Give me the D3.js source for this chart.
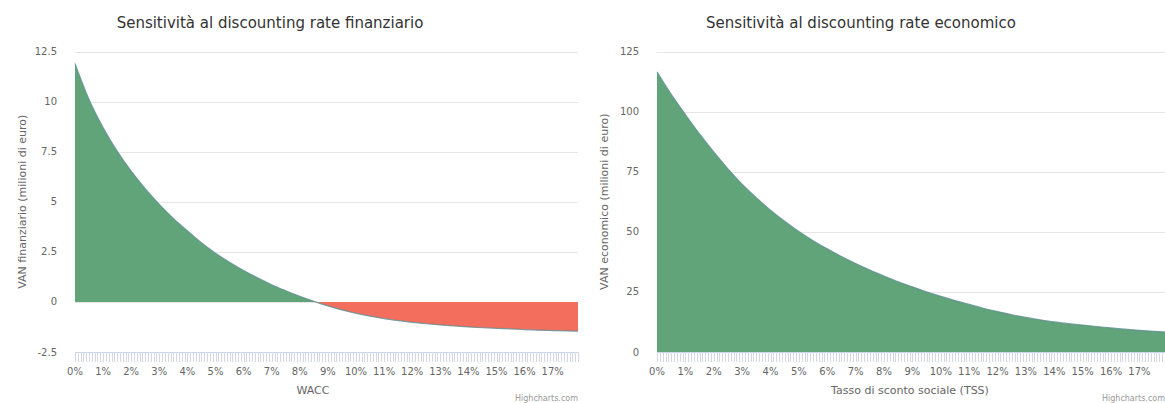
<!DOCTYPE html>
<html>
<head>
<meta charset="utf-8">
<script src="https://cdn.jsdelivr.net/npm/d3@7"></script>
<style>
  html, body { margin: 0; padding: 0; background: #ffffff; }
  svg { display: block; }
  text { font-family: "DejaVu Sans", "Lucida Grande", sans-serif; }
</style>
</head>
<body>
<svg id="chart" width="1165" height="403"></svg>
<script>
// Discount rates (%) at which NPV was evaluated
const rates = [0, 0.5, 1, 1.5, 2, 2.5, 3, 3.5, 4, 4.5, 5, 5.5, 6, 6.5, 7, 7.5, 8, 8.5,
  9, 9.5, 10, 10.5, 11, 11.5, 12, 12.5, 13, 13.5, 14, 14.5, 15, 15.5, 16, 16.5, 17, 17.5, 17.9];

// Financial NPV (million euro) vs WACC
const vanFinanziario = [11.9, 10.1, 8.7, 7.53, 6.53, 5.65, 4.87, 4.17, 3.55, 2.95, 2.43, 1.98, 1.57, 1.2, 0.86, 0.56, 0.28, 0.03,
  -0.2, -0.4, -0.57, -0.71, -0.83, -0.93, -1.02, -1.09, -1.15, -1.2, -1.25, -1.29, -1.32, -1.35, -1.38, -1.41, -1.43, -1.45, -1.46];

// Economic NPV (million euro) vs social discount rate
const vanEconomico = [116.5, 107.2, 98.8, 90.7, 83.2, 76.2, 69.8, 64.2, 59.0, 54.4, 50.1, 46.3, 42.9, 39.7, 36.8, 34.1, 31.6, 29.2,
  27.1, 25.0, 23.2, 21.4, 19.8, 18.2, 16.8, 15.5, 14.4, 13.4, 12.5, 11.8, 11.2, 10.6, 10.0, 9.5, 9.0, 8.6, 8.3];

// Axis ticks
const xLabelTicks = d3.range(0, 18, 1);                 // 0% … 17%
const xMinorTicks = d3.range(0, 180).map(i => i / 10);  // one tick per 0.1%
const yTicksFin = [-2.5, 0, 2.5, 5, 7.5, 10, 12.5];
const yTicksEco = [0, 25, 50, 75, 100, 125];

const svg = d3.select("#chart");

const GREEN = "#62a479";
const RED = "#f46e5e";
const EDGE = "#5f8f94";

function panel(cfg) {
  const g = svg.append("g");
  const x = d3.scaleLinear().domain([0, 17.9]).range([cfg.left, cfg.right]);
  const y = d3.scaleLinear().domain(cfg.yDomain).range([cfg.bottom, cfg.top]);

  // title
  g.append("text")
    .attr("x", cfg.titleX).attr("y", 28)
    .attr("text-anchor", "middle")
    .attr("font-size", 15)
    .attr("fill", "#333333")
    .text(cfg.title);

  // horizontal grid
  g.append("g").selectAll("line").data(cfg.yTicks).join("line")
    .attr("x1", cfg.left).attr("x2", cfg.right)
    .attr("y1", d => Math.round(y(d)) + 0.5).attr("y2", d => Math.round(y(d)) + 0.5)
    .attr("stroke", "#e6e6e6").attr("stroke-width", 1);

  // y tick labels
  g.append("g").selectAll("text").data(cfg.yTicks).join("text")
    .attr("x", cfg.left - 18).attr("y", d => y(d))
    .attr("dy", "0.35em")
    .attr("text-anchor", "end")
    .attr("font-size", 10)
    .attr("fill", "#666666")
    .text(d => String(d));

  // y axis title
  g.append("text")
    .attr("transform", `translate(${cfg.yTitleX},${(cfg.top + cfg.bottom) / 2}) rotate(-90)`)
    .attr("text-anchor", "middle")
    .attr("font-size", 11)
    .attr("fill", "#666666")
    .text(cfg.yTitle);

  const pts = rates.map((r, i) => ({ r, v: cfg.values[i] }));
  const area = d3.area()
    .x(d => x(d.r))
    .y0(y(0))
    .y1(d => y(d.v))
    .curve(d3.curveMonotoneX);
  const line = d3.line()
    .x(d => x(d.r))
    .y(d => y(d.v))
    .curve(d3.curveMonotoneX);

  // split the area at zero: green above, red below
  const idPos = cfg.id + "-pos", idNeg = cfg.id + "-neg";
  const defs = g.append("defs");
  defs.append("clipPath").attr("id", idPos).append("rect")
    .attr("x", cfg.left).attr("y", cfg.top - 5)
    .attr("width", cfg.right - cfg.left).attr("height", y(0) - cfg.top + 5);
  defs.append("clipPath").attr("id", idNeg).append("rect")
    .attr("x", cfg.left).attr("y", y(0))
    .attr("width", cfg.right - cfg.left).attr("height", cfg.bottom - y(0));

  g.append("path").datum(pts)
    .attr("d", area).attr("fill", GREEN)
    .attr("clip-path", `url(#${idPos})`);
  g.append("path").datum(pts)
    .attr("d", area).attr("fill", RED)
    .attr("clip-path", `url(#${idNeg})`);
  g.append("path").datum(pts)
    .attr("d", line).attr("fill", "none")
    .attr("stroke", EDGE).attr("stroke-width", 1.2).attr("stroke-opacity", 0.8);

  // x axis: line + dense category ticks
  g.append("line")
    .attr("x1", cfg.left).attr("x2", cfg.right)
    .attr("y1", cfg.bottom + 0.5).attr("y2", cfg.bottom + 0.5)
    .attr("stroke", "#ccd6eb");
  g.append("g").selectAll("line").data(xMinorTicks).join("line")
    .attr("x1", d => Math.round(x(d)) + 0.5).attr("x2", d => Math.round(x(d)) + 0.5)
    .attr("y1", cfg.bottom).attr("y2", cfg.bottom + 10)
    .attr("stroke", "#d3dae6").attr("stroke-width", 1);

  g.append("g").selectAll("text").data(xLabelTicks).join("text")
    .attr("x", d => x(d)).attr("y", cfg.bottom + 23)
    .attr("text-anchor", "middle")
    .attr("font-size", 10)
    .attr("fill", "#666666")
    .text(d => d + "%");

  g.append("text")
    .attr("x", cfg.xTitleX).attr("y", cfg.bottom + 42)
    .attr("text-anchor", "middle")
    .attr("font-size", 11)
    .attr("fill", "#666666")
    .text(cfg.xTitle);

  g.append("text")
    .attr("x", cfg.right).attr("y", 401)
    .attr("text-anchor", "end")
    .attr("font-size", 8)
    .attr("fill", "#999999")
    .text("Highcharts.com");
}

panel({
  id: "fin",
  left: 75, right: 578, top: 51.5, bottom: 352,
  yDomain: [-2.5, 12.5], yTicks: yTicksFin, values: vanFinanziario,
  title: "Sensitività al discounting rate finanziario", titleX: 270,
  yTitle: "VAN finanziario (milioni di euro)", yTitleX: 26,
  xTitle: "WACC", xTitleX: 313
});

panel({
  id: "eco",
  left: 657, right: 1165, top: 51.5, bottom: 352,
  yDomain: [0, 125], yTicks: yTicksEco, values: vanEconomico,
  title: "Sensitività al discounting rate economico", titleX: 861,
  yTitle: "VAN economico (milioni di euro)", yTitleX: 608,
  xTitle: "Tasso di sconto sociale (TSS)", xTitleX: 910
});
</script>
</body>
</html>
